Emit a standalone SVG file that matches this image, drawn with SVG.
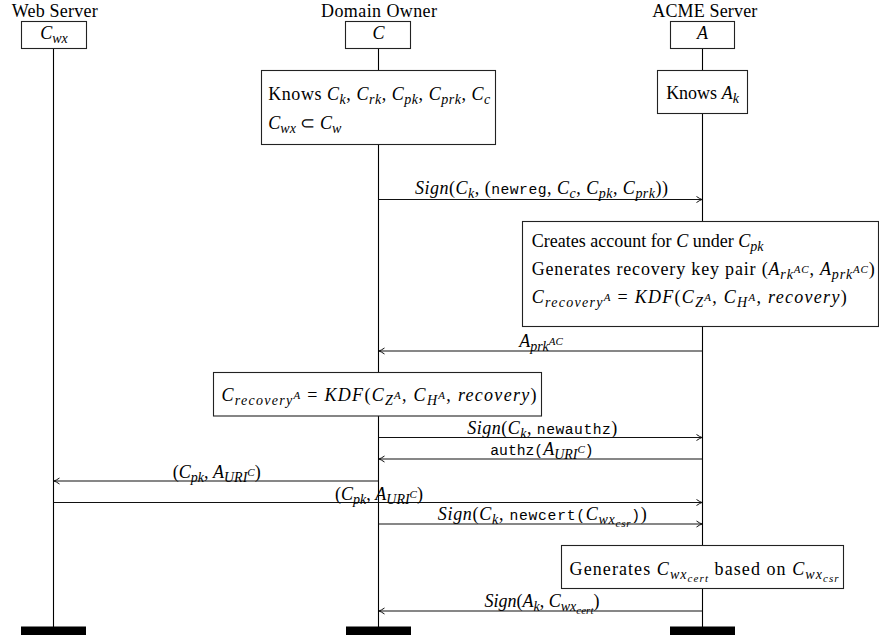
<svg xmlns="http://www.w3.org/2000/svg" width="879" height="638" viewBox="0 0 879 638">
<defs>
<style>
text{font-family:"Liberation Serif","Times New Roman",serif;font-size:18px;fill:#000}
.mid{text-anchor:middle}
.i{font-style:italic}
.s{font-style:italic;font-size:14px}
.ss{font-style:italic;font-size:11px}
.tt{font-family:"Liberation Mono","Courier New",monospace;font-size:14.7px;font-style:normal}
.box{fill:#fff;stroke:#222;stroke-width:1.1}
.life{stroke:#000;stroke-width:1.1;fill:none}
.msg{stroke:#111;stroke-width:1.1;fill:none;marker-end:url(#ah)}
.bar{fill:#000}
</style>
<marker id="ah" viewBox="-7 -4 8 8" markerWidth="8" markerHeight="8" refX="0" refY="0" orient="auto" markerUnits="userSpaceOnUse">
<path d="M-5.5,-3 Q-2,-0.6 0,0 Q-2,0.6 -5.5,3" fill="none" stroke="#111" stroke-width="1"/>
</marker>
</defs>
<rect width="879" height="638" fill="#fff"/>

<g id="lifelines">
<line class="life" x1="53.5" y1="48.5" x2="53.5" y2="627"/>
<line class="life" x1="378.5" y1="48.5" x2="378.5" y2="627"/>
<line class="life" x1="702.5" y1="48.5" x2="702.5" y2="627"/>
</g>

<g id="web-server">
<text x="11.7" y="16.5" textLength="86">Web Server</text>
<rect class="box" x="21.5" y="21.5" width="65" height="27"/>
<text class="mid" x="54" y="39"><tspan class="i">C</tspan><tspan class="s" dy="4">wx</tspan></text>
<rect class="bar" x="21" y="626.5" width="65" height="8.5"/>
</g>

<g id="domain-owner">
<text x="321" y="16.5" textLength="116">Domain Owner</text>
<rect class="box" x="345.5" y="21.5" width="65" height="27"/>
<text class="mid" x="378.5" y="39"><tspan class="i">C</tspan></text>
<rect class="bar" x="346" y="626.5" width="65" height="8.5"/>
</g>

<g id="acme-server">
<text x="652.3" y="16.5" textLength="105">ACME Server</text>
<rect class="box" x="670.5" y="21.5" width="64" height="27"/>
<text class="mid" x="702.5" y="39"><tspan class="i">A</tspan></text>
<rect class="bar" x="670" y="626.5" width="65" height="8.5"/>
</g>

<g id="note-domain-knows">
<rect class="box" x="261.5" y="70.5" width="234" height="74"/>
<text x="268.3" y="100" textLength="222">Knows <tspan class="i">C</tspan><tspan class="s" dy="4">k</tspan><tspan dy="-4">, </tspan><tspan class="i">C</tspan><tspan class="s" dy="4">rk</tspan><tspan dy="-4">, </tspan><tspan class="i">C</tspan><tspan class="s" dy="4">pk</tspan><tspan dy="-4">, </tspan><tspan class="i">C</tspan><tspan class="s" dy="4">prk</tspan><tspan dy="-4">, </tspan><tspan class="i">C</tspan><tspan class="s" dy="4">c</tspan></text>
<text x="268.3" y="129"><tspan class="i">C</tspan><tspan class="s" dy="4">wx</tspan><tspan dy="-4"> ⊂ </tspan><tspan class="i">C</tspan><tspan class="s" dy="4">w</tspan></text>
</g>

<g id="note-acme-knows">
<rect class="box" x="657.5" y="70.5" width="90" height="43"/>
<text class="mid" x="702.5" y="99">Knows <tspan class="i">A</tspan><tspan class="s" dy="4">k</tspan></text>
</g>

<g id="note-acme-creates">
<rect class="box" x="522.5" y="221.5" width="356" height="105"/>
<text x="531.7" y="247">Creates account for <tspan class="i">C</tspan> under <tspan class="i">C</tspan><tspan class="s" dy="4">pk</tspan></text>
<text x="531.7" y="275" textLength="343">Generates recovery key pair (<tspan class="i">A</tspan><tspan class="s" dy="4">rk</tspan><tspan class="ss" dy="-6">AC</tspan><tspan dy="2">, </tspan><tspan class="i">A</tspan><tspan class="s" dy="4">prk</tspan><tspan class="ss" dy="-6">AC</tspan><tspan dy="2">)</tspan></text>
<text x="531.7" y="303" textLength="315"><tspan class="i">C</tspan><tspan class="s" dy="4">recovery</tspan><tspan class="ss" dy="-6">A</tspan><tspan dy="2"> = </tspan><tspan class="i">KDF</tspan>(<tspan class="i">C</tspan><tspan class="s" dy="4">Z</tspan><tspan class="ss" dy="-6">A</tspan><tspan dy="2">, </tspan><tspan class="i">C</tspan><tspan class="s" dy="4">H</tspan><tspan class="ss" dy="-6">A</tspan><tspan dy="2">, </tspan><tspan class="i">recovery</tspan>)</text>
</g>

<g id="note-domain-kdf">
<rect class="box" x="213.5" y="372.5" width="328" height="43.5"/>
<text x="221.5" y="401" textLength="315"><tspan class="i">C</tspan><tspan class="s" dy="4">recovery</tspan><tspan class="ss" dy="-6">A</tspan><tspan dy="2"> = </tspan><tspan class="i">KDF</tspan>(<tspan class="i">C</tspan><tspan class="s" dy="4">Z</tspan><tspan class="ss" dy="-6">A</tspan><tspan dy="2">, </tspan><tspan class="i">C</tspan><tspan class="s" dy="4">H</tspan><tspan class="ss" dy="-6">A</tspan><tspan dy="2">, </tspan><tspan class="i">recovery</tspan>)</text>
</g>

<g id="note-acme-generates">
<rect class="box" x="561.5" y="545.5" width="282" height="43"/>
<text x="569.6" y="575" textLength="269">Generates <tspan class="i">C</tspan><tspan class="s" dy="4">wx</tspan><tspan class="ss" dy="3">cert</tspan><tspan dy="-7"> based on </tspan><tspan class="i">C</tspan><tspan class="s" dy="4">wx</tspan><tspan class="ss" dy="3">csr</tspan></text>
</g>

<g id="connectors">
<line class="msg" x1="378.5" y1="199.5" x2="702" y2="199.5"/>
<text x="415" y="194" textLength="253"><tspan class="i">Sign</tspan>(<tspan class="i">C</tspan><tspan class="s" dy="4">k</tspan><tspan dy="-4">, (</tspan><tspan class="tt">newreg</tspan>, <tspan class="i">C</tspan><tspan class="s" dy="4">c</tspan><tspan dy="-4">, </tspan><tspan class="i">C</tspan><tspan class="s" dy="4">pk</tspan><tspan dy="-4">, </tspan><tspan class="i">C</tspan><tspan class="s" dy="4">prk</tspan><tspan dy="-4">))</tspan></text>

<line class="msg" x1="702.5" y1="351" x2="379" y2="351"/>
<text class="mid" x="541" y="347"><tspan class="i">A</tspan><tspan class="s" dy="4">prk</tspan><tspan class="ss" dy="-6">AC</tspan></text>

<line class="msg" x1="378.5" y1="437.5" x2="702" y2="437.5"/>
<text x="467.3" y="433.5" textLength="150"><tspan class="i">Sign</tspan>(<tspan class="i">C</tspan><tspan class="s" dy="4">k</tspan><tspan dy="-4">, </tspan><tspan class="tt">newauthz</tspan>)</text>

<line class="msg" x1="702.5" y1="459" x2="379" y2="459"/>
<text class="mid" x="542" y="455"><tspan class="tt">authz(</tspan><tspan class="i">A</tspan><tspan class="s" dy="4">URI</tspan><tspan class="ss" dy="-6">C</tspan><tspan class="tt" dy="2">)</tspan></text>

<line class="msg" x1="378.5" y1="481" x2="54" y2="481"/>
<text class="mid" x="216.7" y="478"><tspan>(</tspan><tspan class="i">C</tspan><tspan class="s" dy="4">pk</tspan><tspan dy="-4">, </tspan><tspan class="i">A</tspan><tspan class="s" dy="4">URI</tspan><tspan class="ss" dy="-6">C</tspan><tspan dy="2">)</tspan></text>

<line class="msg" x1="53.5" y1="502.5" x2="702" y2="502.5"/>
<text class="mid" x="379" y="499.5"><tspan>(</tspan><tspan class="i">C</tspan><tspan class="s" dy="4">pk</tspan><tspan dy="-4">, </tspan><tspan class="i">A</tspan><tspan class="s" dy="4">URI</tspan><tspan class="ss" dy="-6">C</tspan><tspan dy="2">)</tspan></text>

<line class="msg" x1="378.5" y1="524" x2="702" y2="524"/>
<text x="437.7" y="519.5" textLength="209"><tspan class="i">Sign</tspan>(<tspan class="i">C</tspan><tspan class="s" dy="4">k</tspan><tspan dy="-4">, </tspan><tspan class="tt">newcert(</tspan><tspan class="i">C</tspan><tspan class="s" dy="4">wx</tspan><tspan class="ss" dy="3">csr</tspan><tspan class="tt" dy="-7">)</tspan>)</text>

<line class="msg" x1="702.5" y1="611" x2="379" y2="611"/>
<text class="mid" x="542" y="606.5"><tspan class="i">Sign</tspan>(<tspan class="i">A</tspan><tspan class="s" dy="4">k</tspan><tspan dy="-4">, </tspan><tspan class="i">C</tspan><tspan class="s" dy="4">wx</tspan><tspan class="ss" dy="3">cert</tspan><tspan dy="-7">)</tspan></text>
</g>
</svg>
